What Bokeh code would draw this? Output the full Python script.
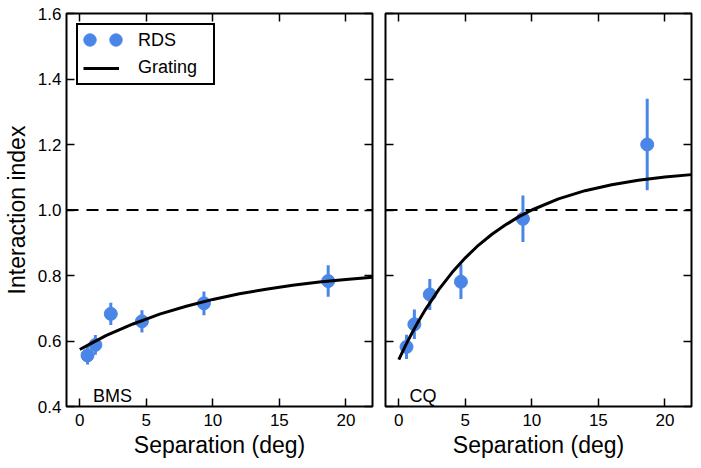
from bokeh.plotting import figure
from bokeh.models import (Range1d, LinearAxis, FixedTicker, PrintfTickFormatter,
                          CustomJSTickFormatter, Span, Label, Legend, LegendItem,
                          ColumnDataSource)
from bokeh.layouts import row
from bokeh.embed import file_html
from bokeh.resources import INLINE

# ---------------- data ----------------
separation = [0.58, 1.17, 2.33, 4.67, 9.33, 18.67]

bms_index = [0.556, 0.588, 0.683, 0.660, 0.715, 0.783]
bms_err = [0.028, 0.030, 0.034, 0.034, 0.036, 0.048]

cq_index = [0.582, 0.651, 0.742, 0.781, 0.973, 1.200]
cq_err = [0.037, 0.045, 0.047, 0.053, 0.071, 0.140]

# grating curves
bms_grating_x = [0, 1, 2, 3, 4, 5, 6, 8, 10, 12, 14, 16, 18, 20, 22]
bms_grating_y = [0.574, 0.596, 0.617, 0.635, 0.652, 0.667, 0.682, 0.706, 0.727,
                 0.744, 0.758, 0.770, 0.780, 0.788, 0.795]

cq_grating_x = [0, 0.5, 1, 1.5, 2, 3, 4, 5, 6, 7, 8, 9, 10, 12, 14, 16, 18, 20, 22]
cq_grating_y = [0.543, 0.586, 0.625, 0.662, 0.696, 0.757, 0.809, 0.854, 0.893,
                0.926, 0.954, 0.979, 1.000, 1.034, 1.059, 1.077, 1.091, 1.101, 1.108]

x_ticks = [0, 5, 10, 15, 20]
y_ticks = [0.4, 0.6, 0.8, 1.0, 1.2, 1.4, 1.6]
reference_level = 1.0
subjects = ["BMS", "CQ"]

# ---------------- style ----------------
FONT = "Liberation Sans"
BLUE = "#4a86e8"
FRAME_W, FRAME_H = 306, 393
TOP, BOTTOM = 13, 54


def blank_axis(ticks, **kw):
    ax = LinearAxis(ticker=FixedTicker(ticks=ticks),
                    formatter=CustomJSTickFormatter(code="return ''"),
                    major_label_text_font_size="0px", major_label_standoff=0,
                    major_tick_in=8, major_tick_out=0, major_tick_line_width=1.5,
                    minor_tick_line_color=None, axis_line_color=None, **kw)
    return ax


def make_panel(name, yvals, errs, gx, gy, label_x, show_ylabels, borders):
    p = figure(frame_width=FRAME_W, frame_height=FRAME_H,
               x_range=Range1d(-1, 22), y_range=Range1d(0.4, 1.6),
               x_axis_location=None, y_axis_location=None,
               toolbar_location=None, output_backend="svg",
               min_border_left=borders[0], min_border_right=borders[1],
               min_border_top=TOP, min_border_bottom=BOTTOM)
    p.grid.visible = False
    p.outline_line_color = "black"
    p.outline_line_width = 2
    p.outline_line_alpha = 1
    p.background_fill_color = "white"
    p.border_fill_color = "white"

    xb = LinearAxis(ticker=FixedTicker(ticks=x_ticks), axis_label="Separation (deg)",
                    major_tick_in=8, major_tick_out=0, major_tick_line_width=1.5,
                    minor_tick_line_color=None, axis_line_color=None,
                    major_label_text_font=FONT, major_label_text_font_size="17px",
                    major_label_text_color="black", major_label_standoff=7,
                    axis_label_text_font=FONT, axis_label_text_font_size="23px",
                    axis_label_text_font_style="normal", axis_label_text_color="black",
                    axis_label_standoff=3)
    p.add_layout(xb, "below")
    p.add_layout(blank_axis(x_ticks), "above")
    p.add_layout(blank_axis(y_ticks), "right")
    if show_ylabels:
        yl = LinearAxis(ticker=FixedTicker(ticks=y_ticks),
                        formatter=PrintfTickFormatter(format="%.1f"),
                        axis_label="Interaction index",
                        major_tick_in=8, major_tick_out=0, major_tick_line_width=1.5,
                        minor_tick_line_color=None, axis_line_color=None,
                        major_label_text_font=FONT, major_label_text_font_size="17px",
                        major_label_text_color="black", major_label_standoff=5,
                        axis_label_text_font=FONT, axis_label_text_font_size="23px",
                        axis_label_text_font_style="normal", axis_label_text_color="black",
                        axis_label_standoff=5)
        p.add_layout(yl, "left")
    else:
        p.add_layout(blank_axis(y_ticks), "left")

    p.add_layout(Span(location=reference_level, dimension="width", line_color="black",
                      line_width=2, line_dash="12 8"))

    lo = [y - e for y, e in zip(yvals, errs)]
    hi = [y + e for y, e in zip(yvals, errs)]
    src = ColumnDataSource(dict(x=separation, y=yvals, lo=lo, hi=hi))
    p.segment(x0="x", y0="lo", x1="x", y1="hi", source=src, line_color=BLUE, line_width=3)
    dots = p.scatter("x", "y", source=src, size=13, fill_color=BLUE, line_color=BLUE)
    curve = p.line(gx, gy, line_color="black", line_width=3)

    p.add_layout(Label(x=label_x, y=0.433, text=name, text_font=FONT,
                       text_font_size="18px", text_color="black",
                       text_baseline="alphabetic"))
    return p, dots, curve


p1, dots1, curve1 = make_panel(subjects[0], bms_index, bms_err, bms_grating_x,
                               bms_grating_y, 1.0, True, (60, 6))
p2, dots2, curve2 = make_panel(subjects[1], cq_index, cq_err, cq_grating_x,
                               cq_grating_y, 0.8, False, (7, 8))

# legend (left panel)
ghost = p1.scatter([], [], size=13, fill_alpha=0, line_alpha=0)
main_leg = Legend(items=[LegendItem(label="RDS", renderers=[ghost]),
                         LegendItem(label="Grating", renderers=[curve1])],
                  location="top_left", margin=10, padding=5, spacing=6,
                  glyph_width=36, glyph_height=20, label_standoff=19, label_width=70,
                  label_text_font=FONT, label_text_font_size="18px",
                  label_text_color="black",
                  border_line_color="black", border_line_width=2, border_line_alpha=1,
                  background_fill_color="white", background_fill_alpha=1)
p1.add_layout(main_leg)
for vx in (8.2, 34.2):
    dl = Legend(items=[LegendItem(label=" ", renderers=[dots1])],
                location=(vx, 351.5), margin=0, padding=0, spacing=0,
                glyph_width=31, glyph_height=31, label_standoff=0, label_width=0,
                label_height=0, label_text_font_size="1px",
                border_line_color=None, background_fill_alpha=0)
    p1.add_layout(dl)

layout = row(p1, p2, spacing=0)
open("out.html", "w").write(file_html(layout, INLINE))
